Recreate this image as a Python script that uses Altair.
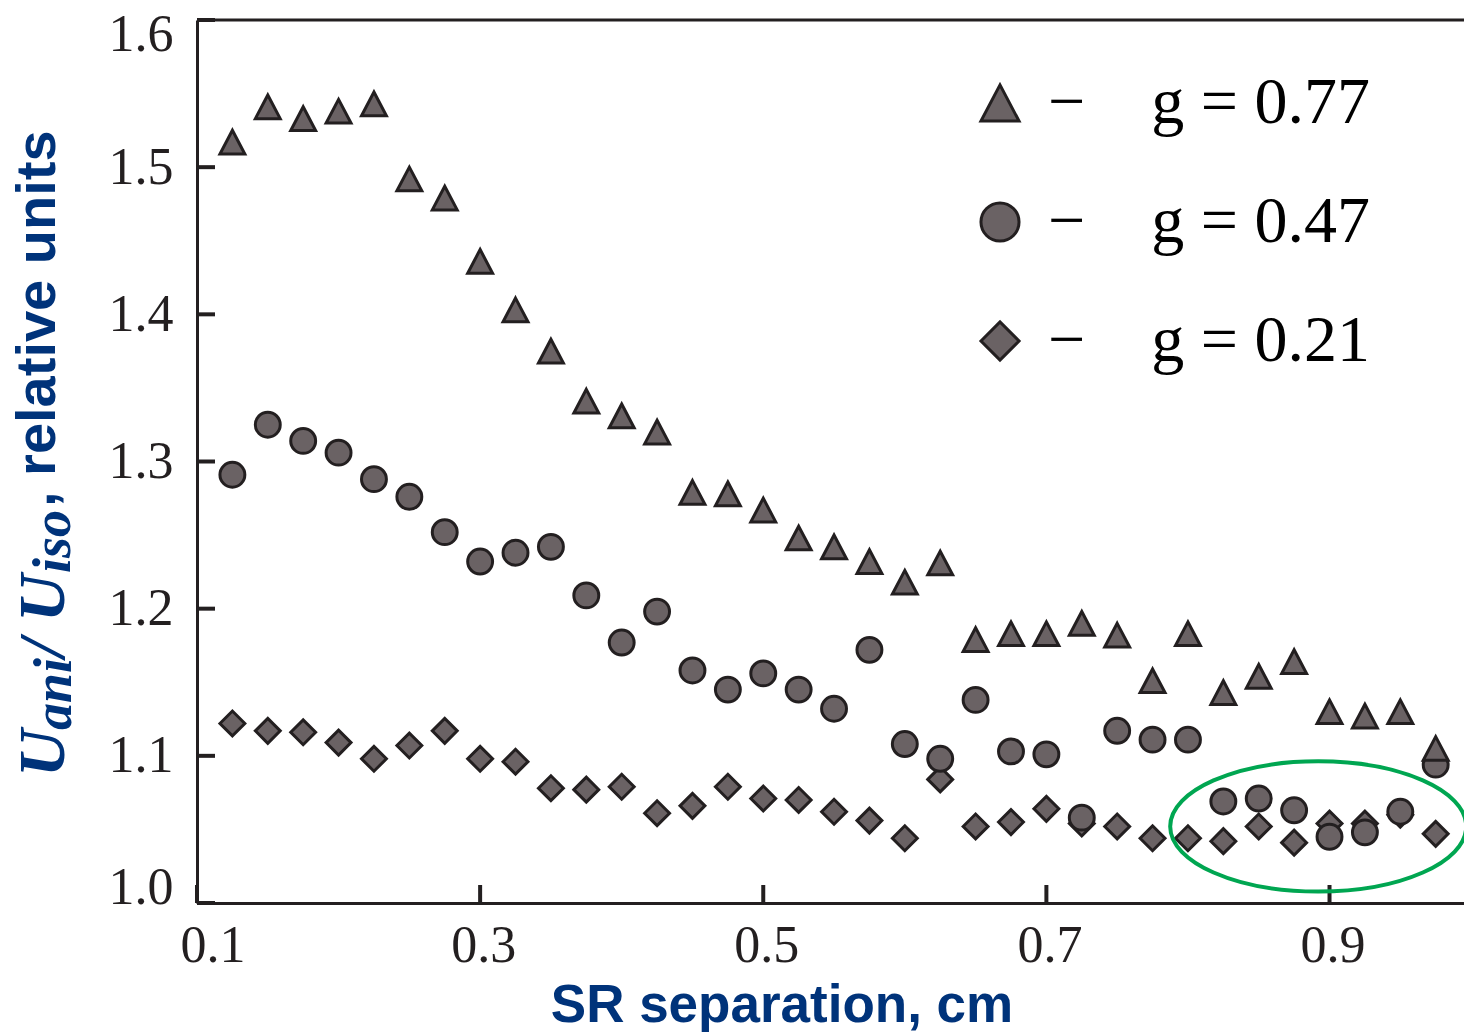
import altair as alt
import pandas as pd

# ---------------- data ----------------
x_sep = [0.125, 0.150, 0.175, 0.200, 0.225, 0.250, 0.275, 0.300, 0.325, 0.350,
         0.375, 0.400, 0.425, 0.450, 0.475, 0.500, 0.525, 0.550, 0.575, 0.600,
         0.625, 0.650, 0.675, 0.700, 0.725, 0.750, 0.775, 0.800, 0.825, 0.850,
         0.875, 0.900, 0.925, 0.950, 0.975]

g077 = [1.517, 1.541, 1.533, 1.538, 1.543, 1.492, 1.479, 1.436, 1.403, 1.375,
        1.341, 1.331, 1.320, 1.279, 1.278, 1.267, 1.248, 1.242, 1.232, 1.218,
        1.231, 1.179, 1.183, 1.183, 1.190, 1.182, 1.151, 1.183, 1.143, 1.154,
        1.164, 1.130, 1.127, 1.130, 1.105]

g047 = [1.291, 1.325, 1.314, 1.306, 1.288, 1.276, 1.252, 1.232, 1.238, 1.242,
        1.209, 1.177, 1.198, 1.158, 1.145, 1.156, 1.145, 1.132, 1.172, 1.108,
        1.098, 1.138, 1.103, 1.101, 1.058, 1.117, 1.111, 1.111, 1.069, 1.071,
        1.063, 1.045, 1.048, 1.062, 1.094]

g021 = [1.122, 1.117, 1.116, 1.109, 1.098, 1.107, 1.117, 1.098, 1.096, 1.078,
        1.077, 1.079, 1.061, 1.066, 1.079, 1.071, 1.070, 1.062, 1.056, 1.044,
        1.084, 1.052, 1.055, 1.064, 1.054, 1.052, 1.044, 1.044, 1.042, 1.052,
        1.041, 1.054, 1.054, 1.060, 1.047]

NB = "\u00a0"
series_labels = ["\u2212" + NB * 4 + "g = 0.77",
                 "\u2212" + NB * 4 + "g = 0.47",
                 "\u2212" + NB * 4 + "g = 0.21"]

y_ticks = [1.0, 1.1, 1.2, 1.3, 1.4, 1.5, 1.6]
x_ticks = [0.1, 0.3, 0.5, 0.7, 0.9]
x_domain = [0.1, 0.995]
y_domain = [1.0, 1.6]

ellipse_center_x = [0.892]
ellipse_center_y = [1.052]

# ---------------- styling ----------------
W, H = 1267, 883
INK = "#231f20"
FILL = "#6a6264"
NAVY = "#00337a"
GREEN = "#00a651"
TRI = "M0,-0.95L1,0.95L-1,0.95Z"
ELLIPSE = ("M-1,0C-1,-0.243,-0.552,-0.44,0,-0.44C0.552,-0.44,1,-0.243,1,0"
           "C1,0.243,0.552,0.44,0,0.44C-0.552,0.44,-1,0.243,-1,0Z")

rows = []
for lab, vals in [(series_labels[2], g021), (series_labels[1], g047), (series_labels[0], g077)]:
    for xv, yv in zip(x_sep, vals):
        rows.append({"sep": xv, "U": yv, "series": lab})
df = pd.DataFrame(rows)

xscale = alt.Scale(domain=x_domain, nice=False, zero=False)
yscale = alt.Scale(domain=y_domain, nice=False, zero=False)

x_axis = alt.Axis(values=x_ticks, format=".1f", ticks=False, tickSize=0, grid=False,
                  domainColor=INK, domainWidth=3,
                  labelFont="Liberation Serif", labelFontSize=52, labelColor=INK,
                  labelPadding=17, labelOffset=3, labelFlush=5, labelFlushOffset=20,
                  title="SR separation, cm", titleFont="Liberation Sans", titleFontSize=53,
                  titleFontWeight="bold", titleColor=NAVY, titleX=584.5, titleY=118,
                  titleAlign="center", titleBaseline="alphabetic")
y_axis = alt.Axis(values=y_ticks, format=".1f", ticks=False, tickSize=0, grid=False,
                  domainColor=INK, domainWidth=3,
                  labelFont="Liberation Serif", labelFontSize=52, labelColor=INK,
                  labelPadding=24, labelFlush=5, labelFlushOffset=11, title=None)

legend = alt.Legend(orient="none", legendX=770, legendY=50, title=None,
                    padding=0, symbolSize=1450, symbolStrokeWidth=3,
                    symbolOpacity=1, labelFont="Liberation Serif",
                    labelFontSize=66, labelColor="black", labelOffset=15,
                    rowPadding=53, labelLimit=800)

points = alt.Chart(df).mark_point(
    filled=True, strokeWidth=3, opacity=1, size=620
).encode(
    x=alt.X("sep:Q", scale=xscale, axis=x_axis),
    y=alt.Y("U:Q", scale=yscale, axis=y_axis),
    shape=alt.Shape("series:N",
                    scale=alt.Scale(domain=series_labels, range=[TRI, "circle", "diamond"]),
                    legend=legend),
    fill=alt.Fill("series:N",
                  scale=alt.Scale(domain=series_labels, range=[FILL, FILL, FILL]),
                  legend=legend),
    stroke=alt.Stroke("series:N",
                      scale=alt.Scale(domain=series_labels, range=[INK, INK, INK]),
                      legend=legend),
)

ytick_rules = alt.Chart(pd.DataFrame({"tv": y_ticks})).mark_rule(
    color=INK, strokeWidth=4
).encode(y=alt.Y("tv:Q", scale=yscale, axis=y_axis), x=alt.value(0), x2=alt.value(18))

xtick_rules = alt.Chart(pd.DataFrame({"tx": x_ticks})).mark_rule(
    color=INK, strokeWidth=4
).encode(x=alt.X("tx:Q", scale=xscale, axis=x_axis), y=alt.value(H), y2=alt.value(H - 18))

top_spine = alt.Chart(pd.DataFrame({"ty": [y_domain[1]]})).mark_rule(
    color=INK, strokeWidth=3
).encode(y=alt.Y("ty:Q", scale=yscale, axis=y_axis), x=alt.value(0), x2=alt.value(W))

ellipse = alt.Chart(pd.DataFrame({"ex": ellipse_center_x, "ey": ellipse_center_y})).mark_point(
    shape=ELLIPSE, size=87616, filled=False, stroke=GREEN, strokeWidth=4, opacity=1
).encode(x=alt.X("ex:Q", scale=xscale, axis=x_axis), y=alt.Y("ey:Q", scale=yscale, axis=y_axis))

# y-axis title pieces (rotated, reading bottom to top)
def ytitle(text, x, y, font, size, style="normal", weight="bold"):
    return alt.Chart(pd.DataFrame({"t": [text]})).mark_text(
        angle=270, align="left", baseline="alphabetic", font=font, fontSize=size,
        fontStyle=style, fontWeight=weight, color=NAVY
    ).encode(text="t:N", x=alt.value(x), y=alt.value(y))

title_parts = [
    ytitle("U", -133, 757, "Liberation Serif", 66, "italic"),
    ytitle("ani", -126, 710, "Liberation Serif", 54, "italic"),
    ytitle("/", -133, 637, "Liberation Serif", 66, "italic"),
    ytitle("U", -133, 602, "Liberation Serif", 66, "italic"),
    ytitle("iso", -127, 553, "Liberation Serif", 54, "italic"),
    ytitle(", relative units", -142, 487, "Liberation Sans", 56),
]

chart = alt.layer(
    top_spine, ytick_rules, xtick_rules, points, ellipse, *title_parts
).properties(
    width=W, height=H,
    autosize=alt.AutoSizeParams(type="none"),
    padding={"left": 197, "top": 20, "right": 0, "bottom": 129},
).configure_view(stroke=None).configure(background="white")

chart.save("out.html", embed_options={"renderer": "svg", "actions": False})
